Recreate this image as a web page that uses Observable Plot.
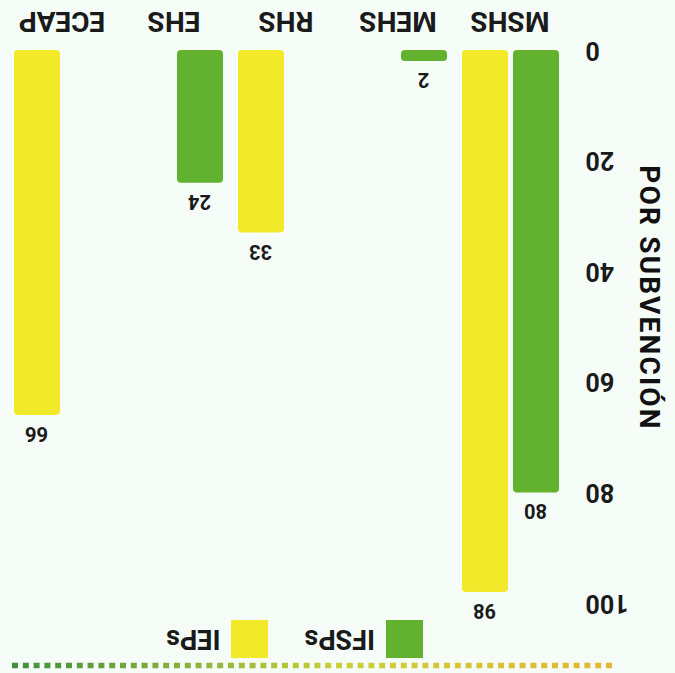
<!DOCTYPE html>
<html>
<head>
<meta charset="utf-8">
<script src="https://cdn.jsdelivr.net/npm/d3@7"></script>
<script src="https://cdn.jsdelivr.net/npm/@observablehq/plot@0.6"></script>
<style>
  html, body { margin: 0; padding: 0; background: #f6fdf9; }
  #root {
    position: relative; width: 675px; height: 673px; overflow: hidden;
    transform: rotate(180deg); background: #f6fdf9;
    font-family: Roboto, "DejaVu Sans", sans-serif; font-weight: bold;
  }
  #rule { position: absolute; left: 0; top: 0; }
  #legend {
    position: absolute; left: 252px; top: 15px; height: 38px;
    display: flex; align-items: center; font-size: 27px; color: #1a1a1a;
  }
  #legend .sw { width: 37px; height: 38px; margin-right: 11px; }
  #legend .lab { margin-right: 36px; }
  #chart { position: absolute; left: 0; top: 40px; }
  #chart svg { overflow: visible; }
</style>
</head>
<body>
<div id="root">
  <svg id="rule" width="675" height="14">
    <defs>
      <linearGradient id="g" gradientUnits="userSpaceOnUse" x1="63" x2="665" y1="0" y2="0">
        <stop offset="0" stop-color="#e4b634"/>
        <stop offset="0.45" stop-color="#c9cf3a"/>
        <stop offset="1" stop-color="#3f8f3c"/>
      </linearGradient>
    </defs>
    <line x1="63" x2="665" y1="7.5" y2="7.5" stroke="url(#g)" stroke-width="5.5" stroke-dasharray="6 4.8"/>
  </svg>
  <div id="legend"></div>
  <div id="chart"></div>
</div>
<script>
const categories = ["MSHS", "MEHS", "RHS", "EHS", "ECEAP"];
const seriesNames = ["IFSPs", "IEPs"];
const ifspsValues = [80, 2, null, 24, null];
const iepsValues = [98, null, 33, null, 66];
const yTicks = [0, 20, 40, 60, 80, 100];
const seriesColors = ["#62b22f", "#f3e92b"];
const yTitle = "POR SUBVENCIÓN";

const rows = categories.flatMap((c, i) => [
  {cat: c, series: seriesNames[0], value: ifspsValues[i]},
  {cat: c, series: seriesNames[1], value: iepsValues[i]}
]).filter(d => d.value != null);

const legend = document.getElementById("legend");
seriesNames.forEach((s, i) => {
  const sw = document.createElement("div");
  sw.className = "sw"; sw.style.background = seriesColors[i];
  const lab = document.createElement("div");
  lab.className = "lab"; lab.textContent = s;
  legend.appendChild(sw); legend.appendChild(lab);
});

const chart = Plot.plot({
  width: 675, height: 633,
  marginTop: 30, marginBottom: 50, marginLeft: 113, marginRight: 10,
  style: {background: "transparent", fontFamily: "Roboto, 'DejaVu Sans', sans-serif", fontWeight: "bold", color: "#1a1a1a", overflow: "visible"},
  fx: {domain: categories, paddingInner: 0.115, paddingOuter: 0, label: null},
  x: {domain: seriesNames, paddingInner: 0.094, paddingOuter: 0, axis: null},
  y: {domain: [0, 100], label: null},
  color: {domain: seriesNames, range: seriesColors},
  marks: [
    Plot.barY(rows, {fx: "cat", x: "series", y: "value", fill: "series", rx: 4}),
    Plot.text(rows, {fx: "cat", x: "series", y: "value", text: d => String(d.value), dy: -19, fontSize: 20, fill: "#1a1a1a", fontWeight: "bold"}),
    Plot.axisY({ticks: yTicks, tickSize: 0, tickPadding: 26, fontSize: 25, label: null}),
    Plot.axisFx({anchor: "bottom", tickSize: 0, tickPadding: 18, fontSize: 28, label: null}),
    Plot.text([yTitle], {facet: "super", frameAnchor: "left", textAnchor: "middle", rotate: -90, dx: -89, dy: 28, fontSize: 28, fontWeight: "bold", fill: "#111"})
  ]
});
document.getElementById("chart").appendChild(chart);
chart.querySelectorAll("text").forEach(t => {
  if (t.textContent === yTitle) t.style.letterSpacing = "2.2px";
});
</script>
</body>
</html>
